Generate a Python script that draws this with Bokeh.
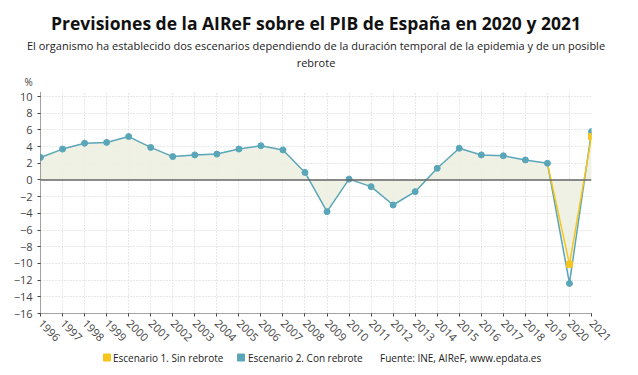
import numpy as np
from bokeh.plotting import figure
from bokeh.layouts import column
from bokeh.models import Range1d, FixedTicker, Title, Span
from bokeh.core.properties import value
from bokeh.embed import file_html
from bokeh.resources import INLINE

years = list(range(1996, 2022))
hist = [2.7, 3.7, 4.4, 4.5, 5.2, 3.9, 2.8, 3.0, 3.1, 3.7, 4.1, 3.6, 0.9, -3.8,
        0.1, -0.8, -3.0, -1.4, 1.4, 3.8, 3.0, 2.9, 2.4, 2.0]
esc1 = [-10.1, 5.2]
esc2 = [-12.4, 5.8]
y_ticks = list(range(-16, 11, 2))
legend_labels = ["Escenario 1. Sin rebrote", "Escenario 2. Con rebrote"]
source_text = "Fuente: INE, AIReF, www.epdata.es"

s1_years = years[-3:]
s1_vals = [hist[-1]] + esc1
s2_years = years[-3:]
s2_vals = [hist[-1]] + esc2

BLUE = "#5aa6b9"
YEL = "#f6c51b"
FILL = "#eeefe2"
FONT = "Open Sans"

p = figure(width=638, height=347, output_backend="svg", toolbar_location=None,
           x_range=Range1d(1996, 2021), y_range=Range1d(-16, 10.6),
           min_border_left=40, min_border_right=47, min_border_top=14,
           min_border_bottom=34, background_fill_color="white",
           border_fill_color="white", outline_line_color=None)

pct = Title(text="%", align="left", offset=-16, text_font=FONT, text_font_size="10px",
            text_font_style="normal", text_color="#444", standoff=6)
sub2 = Title(text="rebrote", align="center", text_font=FONT, text_font_size="11px",
             text_font_style="normal", text_color="#222", standoff=0)
sub1 = Title(text="El organismo ha establecido dos escenarios dependiendo de la duración temporal de la epidemia y de un posible",
             align="center", text_font=FONT, text_font_size="11px",
             text_font_style="normal", text_color="#222", standoff=0)
tit = Title(text="Previsiones de la AIReF sobre el PIB de España en 2020 y 2021",
            align="center", text_font=FONT, text_font_size="17.5px",
            text_font_style="bold", text_color="#111", standoff=2)
spacer = Title(text=" ", text_font_size="4px", standoff=0)
p.add_layout(pct, "above")
p.add_layout(sub2, "above")
p.add_layout(sub1, "above")
p.add_layout(tit, "above")
p.add_layout(spacer, "above")

fill1 = hist + esc1
fill2 = hist + esc2
p.varea(x=years, y1=0, y2=fill2, fill_color=FILL, fill_alpha=0.5)
p.varea(x=years, y1=0, y2=fill1, fill_color=FILL, fill_alpha=0.9)

p.add_layout(Span(location=0, dimension="width", line_color="#666", line_width=1.5))

p.line(s2_years, s2_vals, line_color=BLUE, line_width=1.5)
p.line(s1_years, s1_vals, line_color=YEL, line_width=1.5)
p.line(years[:-2], hist, line_color=BLUE, line_width=1.5)
p.scatter(years[:-2], hist, size=6, fill_color=BLUE, line_color=BLUE)
p.scatter(years[-2:], esc2, size=6, fill_color=BLUE, line_color=BLUE)
p.scatter(years[-2:], esc1, size=6, marker="square", fill_color=YEL, line_color=YEL)

p.xaxis.ticker = FixedTicker(ticks=years)
p.yaxis.ticker = FixedTicker(ticks=y_ticks)
p.xaxis.major_label_orientation = -np.pi / 4
for ax in (p.xaxis, p.yaxis):
    ax.major_label_text_font = FONT
    ax.major_label_text_font_size = "11px"
    ax.major_label_text_color = "#444"
    ax.axis_line_color = "#444"
    ax.axis_line_dash = "1 1"
    ax.major_tick_line_color = "#444"
    ax.major_tick_in = 0
    ax.major_tick_out = 3
    ax.minor_tick_line_color = None
p.xgrid.grid_line_color = "#d0d0d0"
p.xgrid.grid_line_dash = "1 2"
p.ygrid.grid_line_color = "#d0d0d0"
p.ygrid.grid_line_dash = "1 2"

# footer with legend and source; its frame is aligned with the main frame,
# so its x range is expressed in page pixels spanning that frame
f = figure(width=638, height=28, output_backend="svg", toolbar_location=None,
           x_range=Range1d(39, 594), y_range=Range1d(0, 28),
           min_border=0, outline_line_color=None, border_fill_color="white")
f.axis.visible = False
f.grid.visible = False
f.scatter(x=[106, 241], y=[18, 18], marker="square", size=7,
          fill_color=[YEL, BLUE], line_color=[YEL, BLUE])
f.text(x=[112, 248, 381], y=[18, 18, 18], text=legend_labels + [source_text],
       text_font=value(FONT), text_font_size="10px", text_color="#222",
       text_baseline="middle")

layout = column(p, f, spacing=0)
open("out.html", "w").write(file_html(layout, INLINE))
